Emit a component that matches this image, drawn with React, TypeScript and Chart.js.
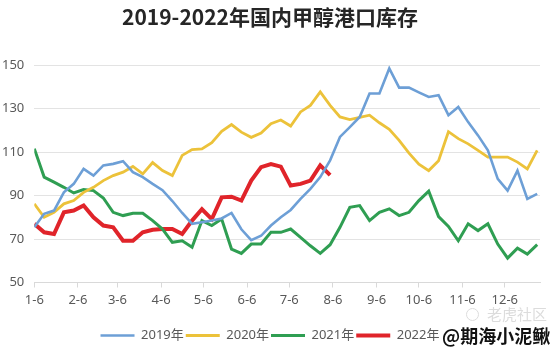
import React, { useEffect, useRef } from 'react';
import { Chart, registerables } from 'chart.js';

Chart.register(...registerables);

// x axis: days counted from Jan 6, tick labels at the 6th of each month
const monthTickDays = [0, 31, 59, 90, 120, 151, 181, 212, 243, 273, 304, 334];
const monthTickLabels = ['1-6', '2-6', '3-6', '4-6', '5-6', '6-6', '7-6', '8-6', '9-6', '10-6', '11-6', '12-6'];
const DAYS_PER_POINT = 7;
const X_MAX_DAY = 359;

// weekly port inventory (万吨)
const inv2019 = [75.4, 81.6, 83.1, 91.5, 95.4, 102.3, 99.2, 103.9, 104.6, 105.8, 100.8, 98.5, 95.4, 92.5, 87.5, 82, 77, 77.7, 78.5, 79.5, 82, 74.5, 69.5, 71.5, 76.2, 80, 83.4, 88.5, 93.1, 98.5, 106.2, 117, 121.5, 126.2, 137, 137, 148.5, 139.7, 139.7, 137.5, 135.4, 136.2, 127, 130.8, 123.8, 117.7, 110.8, 97.7, 92.3, 101.5, 88.5, 90.8];
const inv2020 = [86.2, 80, 82.3, 86.2, 87.7, 91.5, 93.8, 96.9, 99.2, 100.8, 103.4, 100, 105.2, 101.5, 99.2, 108.5, 111.2, 111.5, 114.4, 119.6, 122.7, 119.2, 116.8, 118.8, 123.1, 124.8, 122, 128.5, 131.5, 137.7, 131.5, 126.2, 125, 126, 127, 123.5, 120.5, 115.4, 109.5, 104.5, 101.5, 106, 119.4, 116.2, 113.8, 110.8, 107.7, 107.7, 107.7, 105.4, 102.3, 110.8];
const inv2021 = [111.6, 98.5, 96.2, 93.8, 91.2, 92.8, 92.3, 88.9, 82.3, 80.8, 81.9, 81.9, 78.5, 74.6, 68.5, 69.2, 66.2, 78.5, 76.2, 79.2, 65.4, 63.4, 67.7, 67.7, 73.1, 73.1, 74.6, 70.8, 66.9, 63.4, 67.4, 75.4, 84.6, 85.4, 78.5, 82.3, 83.9, 80.8, 82.3, 87.7, 92, 80.3, 75.8, 69.2, 77, 73.9, 77, 67.7, 61.2, 65.8, 63.1, 67.4];
const inv2022 = [77, 73.1, 72.3, 82.3, 83.1, 85.4, 80, 76.2, 75.4, 69.2, 69.2, 73.1, 74.3, 74.6, 74.6, 72.3, 78.5, 83.7, 79.2, 89.2, 89.5, 87.7, 96.9, 103.1, 104.5, 103.3, 94.6, 95.4, 96.9, 103.9, 99.4];

const seriesNames = ['2019年', '2020年', '2021年', '2022年'];
const seriesValues = [inv2019, inv2020, inv2021, inv2022];
const seriesColors = ['#6d9fd6', '#ecc23a', '#2f9e52', '#e0242a'];
const seriesWidths = [2.6, 2.8, 3, 4];

const TITLE = '2019-2022年国内甲醇港口库存';
const FONT = "'Noto Sans', 'Noto Sans CJK SC', sans-serif";

export default function App() {
  const canvasRef = useRef<HTMLCanvasElement | null>(null);

  useEffect(() => {
    const canvas = canvasRef.current;
    if (!canvas) return;
    const datasets = seriesValues.map((vals, s) => ({
      label: seriesNames[s],
      data: vals.map((v, i) => ({ x: i * DAYS_PER_POINT, y: v })),
      borderColor: seriesColors[s],
      backgroundColor: seriesColors[s],
      borderWidth: seriesWidths[s],
      pointRadius: 0,
      tension: 0,
      fill: false,
    }));
    const chart = new Chart(canvas, {
      type: 'line',
      data: { datasets },
      options: {
        responsive: false,
        animation: false,
        layout: { padding: { left: 0, right: 14, top: 0, bottom: 0 } },
        plugins: {
          title: {
            display: true,
            text: TITLE,
            font: { size: 21, weight: 'bold', family: "'Noto Sans CJK SC', sans-serif" },
            color: '#262626',
            padding: { top: 4, bottom: 36 },
          },
          legend: {
            position: 'bottom',
            maxHeight: 20,
            labels: {
              usePointStyle: true,
              pointStyle: 'line',
              pointStyleWidth: 34,
              boxHeight: 13,
              padding: 2,
              color: '#595959',
              font: { size: 13, family: FONT },
            },
          },
          tooltip: { enabled: false },
        },
        scales: {
          x: {
            type: 'linear',
            min: 0,
            max: X_MAX_DAY,
            afterBuildTicks: (scale: any) => {
              scale.ticks = monthTickDays.map((d) => ({ value: d }));
            },
            afterFit: (scale: any) => {
              scale.height = 44.5;
            },
            ticks: {
              autoSkip: false,
              maxRotation: 0,
              padding: 5,
              color: '#595959',
              font: { size: 13, family: FONT },
              callback: (_v: any, i: number) => monthTickLabels[i],
            },
            grid: { drawOnChartArea: false, drawTicks: true, tickLength: 5, color: '#d9d9d9' },
            border: { display: true, color: '#d9d9d9' },
          },
          y: {
            min: 50,
            max: 150,
            afterFit: (scale: any) => {
              scale.width = 34.3;
            },
            ticks: {
              stepSize: 20,
              padding: 10,
              color: '#595959',
              font: { size: 13, family: FONT },
            },
            grid: { color: '#e3e3e3', drawTicks: false },
            border: { display: false },
          },
        },
      },
    });
    return () => chart.destroy();
  }, []);

  return (
    <div style={{ position: 'absolute', left: 0, top: 0, width: 554, height: 347, background: '#fff', overflow: 'hidden' }}>
      <canvas ref={canvasRef} width={554} height={347} style={{ display: 'block' }} />
      <div
        style={{
          position: 'absolute',
          left: 466,
          top: 306,
          fontFamily: "'Noto Sans CJK SC', sans-serif",
          fontSize: 15,
          lineHeight: '16px',
          color: '#dcdcdc',
          whiteSpace: 'nowrap',
          display: 'flex',
          alignItems: 'center',
        }}
      >
        <span style={{ display: 'inline-block', width: 11, height: 11, border: '1.5px solid #dcdcdc', borderRadius: '50%', marginRight: 8 }} />
        老虎社区
      </div>
      <div
        style={{
          position: 'absolute',
          left: 442,
          top: 325,
          fontFamily: "'Noto Sans CJK SC', sans-serif",
          fontWeight: 'bold',
          fontSize: 18,
          lineHeight: '20px',
          color: '#111',
          whiteSpace: 'nowrap',
          background: '#fff',
        }}
      >
        @期海小泥鳅
      </div>
    </div>
  );
}
